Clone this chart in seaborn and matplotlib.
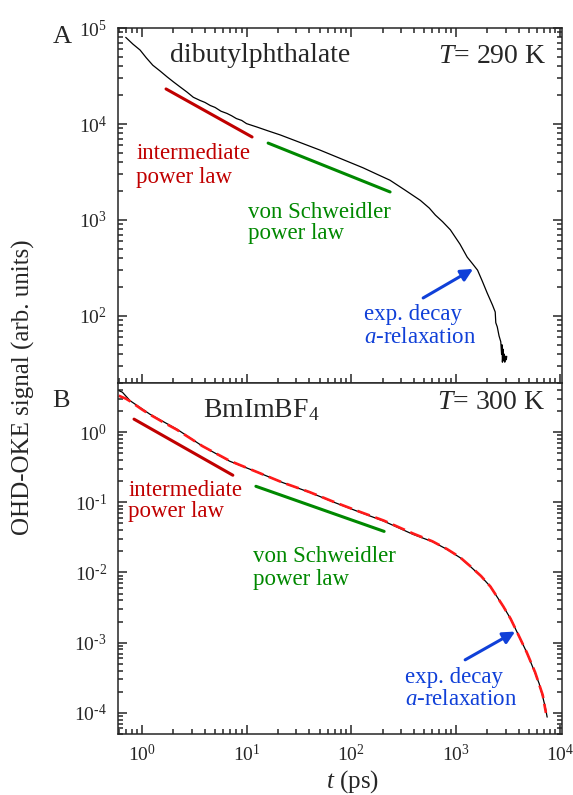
import numpy as np
import pandas as pd
import seaborn as sns
import matplotlib.pyplot as plt
from matplotlib.ticker import FuncFormatter

# OHD-OKE decays
t_dbp = [0.7, 0.82, 0.96, 1.1, 1.27, 1.5, 1.74, 2.0, 2.3, 2.7, 3.1, 3.6, 4.0, 4.5, 5.0, 5.7,
         6.5, 7.2, 8.0, 9.0, 10.0, 12.6, 16, 21, 30, 50, 80, 130, 180, 235, 330, 460, 560,
         640, 750, 890, 1100, 1290, 1450, 1620, 1800, 2000, 2250, 2390, 2420, 2500, 2600,
         2700, 2750, 2780, 2800, 2850, 2880, 2920, 2950, 3000, 3050, 3080]
s_dbp = [80000, 68000, 59000, 49000, 41000, 35500, 31000, 27500, 24500, 21500, 19000, 17600,
         16800, 15600, 14900, 13600, 12900, 12200, 11400, 10900, 10100, 9300, 8500, 7700, 6640,
         5370, 4350, 3500, 2970, 2600, 2040, 1600, 1330, 1125, 960, 790, 560, 410, 350, 300,
         230, 174, 130, 110, 85, 77, 62, 54, 40, 50, 33, 45, 34, 40, 33, 38, 35, 38]

t_bmim = [0.6, 0.65, 0.77, 1.0, 1.19, 1.6, 2.16, 3.8, 6.9, 12.6, 22.4, 40, 70, 122, 205, 390,
          600, 830, 1100, 1380, 1750, 2150, 2850, 3350, 3880, 4800, 5750, 6300, 6800, 7200, 7500]
s_bmim = [3.9, 3.7, 2.8, 2.15, 1.8, 1.41, 1.1, 0.63, 0.385, 0.27, 0.19, 0.139, 0.099, 0.072,
          0.054, 0.035, 0.0275, 0.0213, 0.0163, 0.0122, 0.0088, 0.0063, 0.0033, 0.0022, 0.0014,
          0.00072, 0.00037, 0.00026, 0.00017, 0.00012, 0.000087]

t_fit = [0.6, 0.7, 0.77, 1.0, 1.19, 1.6, 2.16, 3.8, 6.9, 12.6, 22.4, 40, 70, 122, 205, 390,
         600, 830, 1100, 1380, 1750, 2150, 2850, 3350, 3880, 4800, 5750, 6800, 7300]
s_fit = [3.3, 3.0, 2.75, 2.1, 1.78, 1.38, 1.08, 0.63, 0.39, 0.27, 0.19, 0.14, 0.1, 0.073,
         0.055, 0.036, 0.0278, 0.0215, 0.0165, 0.0123, 0.0089, 0.0063, 0.0033, 0.0022, 0.0014,
         0.00072, 0.00038, 0.00018, 0.0001]

# power-law guide lines (end points)
t_int_a, s_int_a = [1.70, 11.3], [23200, 7330]
t_vs_a, s_vs_a = [16.1, 236], [6330, 1960]
t_int_b, s_int_b = [0.84, 7.4], [1.53, 0.243]
t_vs_b, s_vs_b = [12.3, 207], [0.169, 0.0385]

RED = "#c00000"
GREEN = "#008800"
BLUE = "#1040d8"

sns.set_style("ticks")
plt.rcParams['font.family'] = ['Liberation Serif', 'DejaVu Serif']
plt.rcParams['mathtext.fontset'] = 'custom'
plt.rcParams['mathtext.rm'] = 'Liberation Serif'
plt.rcParams['mathtext.it'] = 'Liberation Serif:italic'
plt.rcParams['axes.unicode_minus'] = False
plt.rcParams['axes.linewidth'] = 1.1


def pow10(v, pos):
    e = int(round(np.log10(v)))
    if e < 0:
        return r"$\mathdefault{10^{\text{-}%d}}$" % (-e)
    return r"$\mathdefault{10^{%d}}$" % e


fig = plt.figure(figsize=(5.73, 7.95), dpi=100)
ax1 = fig.add_axes([0.2059, 0.5182, 0.7749, 0.4465])
ax2 = fig.add_axes([0.2059, 0.0767, 0.7749, 0.4415])

# panel A
sns.lineplot(x=t_dbp, y=s_dbp, ax=ax1, color="black", lw=0.9, sort=False, estimator=None)
sns.lineplot(x=t_int_a, y=s_int_a, ax=ax1, color=RED, lw=2.2)
sns.lineplot(x=t_vs_a, y=s_vs_a, ax=ax1, color=GREEN, lw=2.2)

# panel B
sns.lineplot(x=t_bmim, y=s_bmim, ax=ax2, color="black", lw=0.9, sort=False, estimator=None)
sns.lineplot(x=t_fit, y=s_fit, ax=ax2, color="#ff1a1a", lw=1.9, linestyle=(0, (5, 2.2)),
             sort=False, estimator=None)
sns.lineplot(x=t_int_b, y=s_int_b, ax=ax2, color=RED, lw=2.2)
sns.lineplot(x=t_vs_b, y=s_vs_b, ax=ax2, color=GREEN, lw=2.2)

for ax in (ax1, ax2):
    ax.set_xscale("log")
    ax.set_yscale("log")
    ax.set_xlim(0.59, 1.04e4)
    ax.set_xlabel("")
    ax.set_ylabel("")
    ax.tick_params(which="both", direction="in", right=True, labelsize=14, width=1.1)
    ax.tick_params(which="major", length=6.5)
    ax.tick_params(which="minor", length=3.6)
    ax.tick_params(axis="y", pad=8)
    ax.tick_params(axis="x", pad=7)
    ax.xaxis.set_major_formatter(FuncFormatter(pow10))
    ax.yaxis.set_major_formatter(FuncFormatter(pow10))

ax1.set_ylim(20, 1e5)
ax2.set_ylim(5e-5, 5)
ax1.tick_params(which="both", top=True, labelbottom=False)
ax2.tick_params(which="both", top=False)

fs = 16.5
# texts panel A
ax1.text(0.117, 0.904, "dibutylphthalate", transform=ax1.transAxes, fontsize=20, va="baseline")
ax1.text(0.964, 0.901, r"$T$= 290 K", transform=ax1.transAxes, fontsize=20, va="baseline", ha="right")
ax1.text(0.041, 0.630, "intermediate", transform=ax1.transAxes, fontsize=fs, color=RED, va="baseline")
ax1.text(0.041, 0.563, "power law", transform=ax1.transAxes, fontsize=fs, color=RED, va="baseline")
ax1.text(0.293, 0.465, "von Schweidler", transform=ax1.transAxes, fontsize=fs, color=GREEN, va="baseline")
ax1.text(0.293, 0.406, "power law", transform=ax1.transAxes, fontsize=fs, color=GREEN, va="baseline")
ax1.text(0.554, 0.177, "exp. decay", transform=ax1.transAxes, fontsize=fs, color=BLUE, va="baseline")
ax1.text(0.554, 0.113, r"$a$-relaxation", transform=ax1.transAxes, fontsize=fs, color=BLUE, va="baseline")
ax1.annotate("", xy=(1470, 309), xytext=(489, 154),
             arrowprops=dict(arrowstyle="-|>", color=BLUE, lw=2.2, mutation_scale=18, shrinkA=0, shrinkB=0))

# texts panel B
ax2.text(0.191, 0.903, r"BmImBF$_4$", transform=ax2.transAxes, fontsize=20, va="baseline")
ax2.text(0.962, 0.926, r"$T$= 300 K", transform=ax2.transAxes, fontsize=20, va="baseline", ha="right")
ax2.text(0.023, 0.677, "intermediate", transform=ax2.transAxes, fontsize=fs, color=RED, va="baseline")
ax2.text(0.023, 0.617, "power law", transform=ax2.transAxes, fontsize=fs, color=RED, va="baseline")
ax2.text(0.304, 0.489, "von Schweidler", transform=ax2.transAxes, fontsize=fs, color=GREEN, va="baseline")
ax2.text(0.304, 0.426, "power law", transform=ax2.transAxes, fontsize=fs, color=GREEN, va="baseline")
ax2.text(0.646, 0.146, "exp. decay", transform=ax2.transAxes, fontsize=fs, color=BLUE, va="baseline")
ax2.text(0.646, 0.083, r"$a$-relaxation", transform=ax2.transAxes, fontsize=fs, color=BLUE, va="baseline")
ax2.annotate("", xy=(3710, 1.44e-3), xytext=(1233, 5.7e-4),
             arrowprops=dict(arrowstyle="-|>", color=BLUE, lw=2.2, mutation_scale=18, shrinkA=0, shrinkB=0))

# panel letters and shared labels
fig.text(0.092, 1 - 43 / 795, "A", fontsize=19, va="baseline")
fig.text(0.092, 1 - 407 / 795, "B", fontsize=19, va="baseline")
fig.text(23 / 573, 1 - 387 / 795, "OHD-OKE signal (arb. units)", fontsize=18,
         rotation=90, ha="center", va="center")
fig.text(352 / 573, 1 - 788 / 795, r"$t$ (ps)", fontsize=18, ha="center", va="baseline")

fig.savefig("out.png", dpi=100)
